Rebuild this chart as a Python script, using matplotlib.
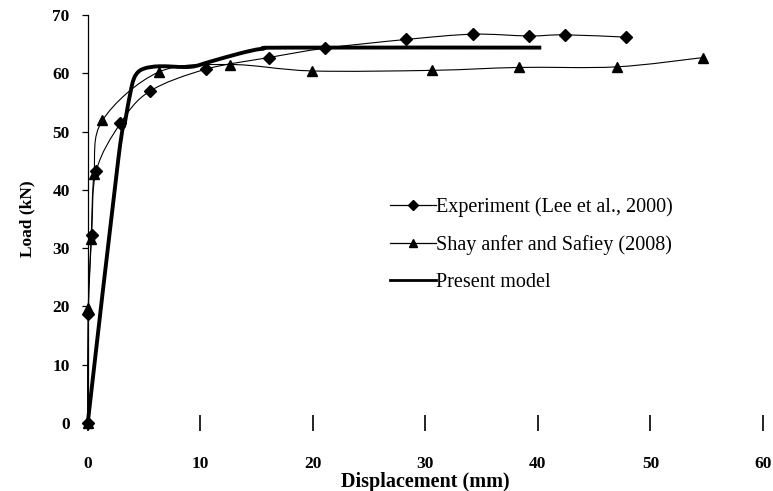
import numpy as np
import matplotlib
matplotlib.use("Agg")
import matplotlib.pyplot as plt
from matplotlib.path import Path
from matplotlib.patches import PathPatch
from matplotlib.lines import Line2D

# Load-displacement data (displacement in mm, load in kN)
exp_disp = [0.0, 0.05, 0.35, 0.75, 2.9, 5.5, 10.5, 16.1, 21.1, 28.3, 34.2, 39.2, 42.4, 47.8]
exp_load = [0.0, 18.7, 32.3, 43.2, 51.4, 56.9, 60.7, 62.7, 64.3, 65.8, 66.7, 66.4, 66.6, 66.2]

sha_disp = [0.0, 0.05, 0.3, 0.55, 1.3, 6.3, 12.6, 19.9, 30.6, 38.3, 47.0, 54.7]
sha_load = [0.0, 19.8, 31.5, 42.8, 51.9, 60.2, 61.5, 60.4, 60.5, 61.0, 61.1, 62.7]

model_disp = [0.0, 2.7, 3.3, 3.9, 4.3, 5.0, 6.4, 9.1, 10.9, 13.5, 15.5, 18.0, 40.3]
model_load = [0.0, 45.0, 51.5, 57.7, 59.8, 60.8, 61.2, 61.1, 62.0, 63.4, 64.2, 64.4, 64.4]

labels = ["Experiment (Lee et al., 2000)", "Shay anfer and Safiey (2008)", "Present model"]
x_ticks = [0, 10, 20, 30, 40, 50, 60]
y_ticks = [0, 10, 20, 30, 40, 50, 60, 70]

plt.rcParams["font.family"] = ["Liberation Serif", "DejaVu Serif"]


def smooth_path(xs, ys):
    """Catmull-Rom style smoothed path through the points (Bezier segments)."""
    p = np.column_stack([xs, ys]).astype(float)
    n = len(p)
    verts = [p[0]]
    codes = [Path.MOVETO]
    for i in range(n - 1):
        p0 = p[i - 1] if i > 0 else p[i]
        p1 = p[i]
        p2 = p[i + 1]
        p3 = p[i + 2] if i + 2 < n else p[i + 1]
        c1 = p1 + (p2 - p0) / 6.0
        c2 = p2 - (p3 - p1) / 6.0
        verts += [c1, c2, p2]
        codes += [Path.CURVE4] * 3
    return Path(np.array(verts), codes)


fig = plt.figure(figsize=(7.73, 4.91), dpi=100)
ax = fig.add_axes([0.1135, 0.1385, 0.8735, 0.831])

ax.add_patch(PathPatch(smooth_path(exp_disp, exp_load), fill=False, lw=0.8, ec="black",
                       clip_on=False))
ax.plot(exp_disp, exp_load, ls="none", marker="D", ms=6.5, color="black", clip_on=False)

ax.add_patch(PathPatch(smooth_path(sha_disp, sha_load), fill=False, lw=0.8, ec="black",
                       clip_on=False))
ax.plot(sha_disp, sha_load, ls="none", marker="^", ms=7.5, color="black", clip_on=False)

ax.add_patch(PathPatch(smooth_path(model_disp, model_load), fill=False, lw=2.8, ec="black",
                       capstyle="butt", joinstyle="round", clip_on=False))

ax.set_xlim(0, 60)
ax.set_ylim(0, 70)
ax.set_xticks(x_ticks)
ax.set_yticks(y_ticks)

for s in ["top", "right", "bottom"]:
    ax.spines[s].set_visible(False)
ax.spines["left"].set_linewidth(0.9)

ax.tick_params(axis="x", direction="inout", length=11, width=1.2, pad=18,
               labelsize=12.5)
ax.tick_params(axis="y", direction="out", length=4, width=0.9, pad=9,
               labelsize=12.5)
for lbl in ax.get_xticklabels() + ax.get_yticklabels():
    lbl.set_fontweight("bold")

ax.set_xlabel("Displacement (mm)", fontsize=14.5, fontweight="bold", labelpad=0)
ax.set_ylabel("Load (kN)", fontsize=12.5, fontweight="bold", labelpad=12)

handles = [
    Line2D([], [], color="black", lw=0.9, marker="D", ms=5),
    Line2D([], [], color="black", lw=0.9, marker="^", ms=6),
    Line2D([], [], color="black", lw=2.0),
]
ax.legend(handles, labels, loc="upper left", bbox_to_anchor=(0.505, 0.598),
          bbox_transform=fig.transFigure, frameon=False, fontsize=14.5,
          handlelength=2.25, handletextpad=0.0, labelspacing=0.9,
          borderaxespad=0.0, borderpad=0.0)

fig.savefig("out.png", dpi=100)
